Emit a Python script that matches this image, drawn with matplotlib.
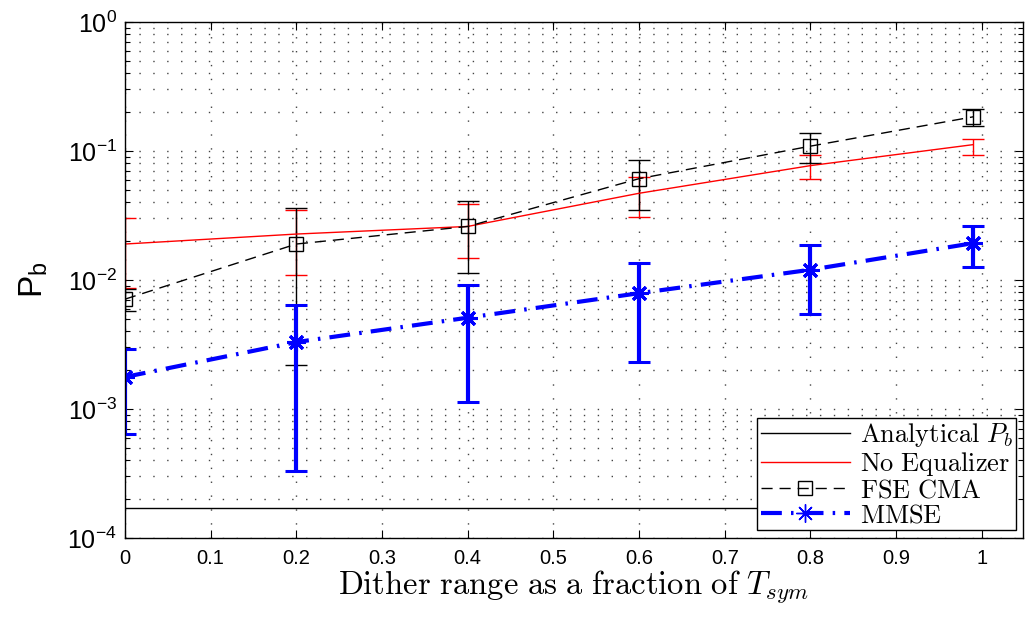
import matplotlib
matplotlib.use('Agg')
import matplotlib.pyplot as plt
from matplotlib.ticker import LogLocator, NullFormatter
from matplotlib.lines import Line2D
import numpy as np

plt.rcParams['font.family'] = ['Liberation Sans', 'DejaVu Sans']
plt.rcParams['mathtext.fontset'] = 'custom'
plt.rcParams['mathtext.rm'] = 'Liberation Sans'
plt.rcParams['mathtext.it'] = 'Liberation Sans:italic'
plt.rcParams['mathtext.default'] = 'regular'

# dither range (fraction of Tsym)
x = [0, 0.2, 0.4, 0.6, 0.8, 0.99]

analytical = [1.7e-4, 1.7e-4, 1.7e-4, 1.7e-4, 1.7e-4, 1.7e-4]

noeq = [0.019, 0.0227, 0.026, 0.047, 0.077, 0.112]
noeq_lo = [0.0087, 0.011, 0.0148, 0.031, 0.061, 0.093]
noeq_hi = [0.030, 0.035, 0.039, 0.063, 0.093, 0.124]

cma = [0.0071, 0.019, 0.026, 0.061, 0.109, 0.184]
cma_lo = [0.0057, 0.0022, 0.0113, 0.035, 0.081, 0.156]
cma_hi = [0.0085, 0.036, 0.041, 0.085, 0.138, 0.21]

mmse = [0.00177, 0.0033, 0.0051, 0.0079, 0.012, 0.0193]
mmse_lo = [0.00064, 0.00033, 0.00113, 0.0023, 0.0054, 0.0126]
mmse_hi = [0.0029, 0.0064, 0.0092, 0.0135, 0.0187, 0.026]

xticks = [0, 0.1, 0.2, 0.3, 0.4, 0.5, 0.6, 0.7, 0.8, 0.9, 1]
xticklabels = ['0', '0.1', '0.2', '0.3', '0.4', '0.5', '0.6', '0.7', '0.8', '0.9', '1']


def err(v, lo, hi):
    v = np.array(v); lo = np.array(lo); hi = np.array(hi)
    return [v - lo, hi - v]


dash_cma = (0, (8, 5))
dash_mmse = (0, (5, 2.2, 0.6, 2.2))
star = (8, 2, 0)

fig = plt.figure(figsize=(10.27, 6.21), dpi=100)
ax = fig.add_axes([0.1217, 0.1337, 0.8743, 0.8309])

ax.plot(x, analytical, color='black', lw=1.0)

ax.errorbar(x, noeq, yerr=err(noeq, noeq_lo, noeq_hi), color='red', lw=1.0,
            elinewidth=1.0, capsize=8, capthick=1.0)

ax.errorbar(x, cma, yerr=err(cma, cma_lo, cma_hi), color='black', lw=1.0,
            ls=dash_cma, marker='s', markersize=10, markerfacecolor='none',
            markeredgewidth=1.0, elinewidth=1.0, capsize=8, capthick=1.0)

ax.errorbar(x, mmse, yerr=err(mmse, mmse_lo, mmse_hi), color='blue', lw=3.0,
            ls=dash_mmse, marker=star, markersize=13,
            markeredgewidth=2.2, elinewidth=3.0, capsize=8, capthick=3.0)

ax.set_yscale('log')
ax.set_ylim(1e-4, 1)
ax.set_xlim(0, 1.048)
ax.set_xticks(xticks)
ax.set_xticklabels(xticklabels)
ax.yaxis.set_major_locator(LogLocator(base=10, numticks=10))
ax.yaxis.set_minor_locator(LogLocator(base=10, subs=np.arange(2, 10), numticks=10))
ax.yaxis.set_minor_formatter(NullFormatter())

ax.tick_params(which='both', direction='in', top=True, right=True)
ax.tick_params(axis='x', labelsize=14.5, pad=8)
ax.tick_params(axis='y', labelsize=18, pad=6)
ax.tick_params(which='major', length=6, width=0.8)
ax.tick_params(which='minor', length=3.5, width=0.8)

ax.grid(True, which='major', axis='both', ls=(0, (1, 9)), color='#444444', lw=1.0)
ax.grid(True, which='minor', axis='y', ls=(0, (1, 9)), color='#444444', lw=1.0)

for s in ax.spines.values():
    s.set_linewidth(1.0)

xl = ax.set_xlabel(r'$\mathrm{Dither\ range\ as\ a\ fraction\ of\ }\mathit{T}_{\mathit{sym}}$',
                   fontsize=23.5, labelpad=0)
xl.set_math_fontfamily('cm')
ax.set_ylabel(r'$P_b$', fontsize=24, labelpad=12)

handles = [
    Line2D([], [], color='black', lw=1.0),
    Line2D([], [], color='red', lw=1.0),
    Line2D([], [], color='black', lw=1.0, ls=dash_cma, marker='s', markersize=10,
           markerfacecolor='none', markeredgewidth=1.0),
    Line2D([], [], color='blue', lw=3.0, ls=dash_mmse, marker=star, markersize=13,
           markeredgewidth=1.0),
]
labels = [r'$\mathrm{Analytical}\ \mathit{P}_{\mathit{b}}$', r'$\mathrm{No\ Equalizer}$',
          r'$\mathrm{FSE\ CMA}$', r'$\mathrm{MMSE}$']

leg = ax.legend(handles, labels, loc='lower right', bbox_to_anchor=(0.992, 0.015),
                borderaxespad=0, fontsize=19, fancybox=False, edgecolor='black',
                framealpha=1, handlelength=3.4, numpoints=1, labelspacing=0.02,
                borderpad=0.12, handletextpad=0.35)
leg.get_frame().set_linewidth(1.0)
for t in leg.get_texts():
    t.set_math_fontfamily('cm')

fig.savefig('out.png', dpi=100)
